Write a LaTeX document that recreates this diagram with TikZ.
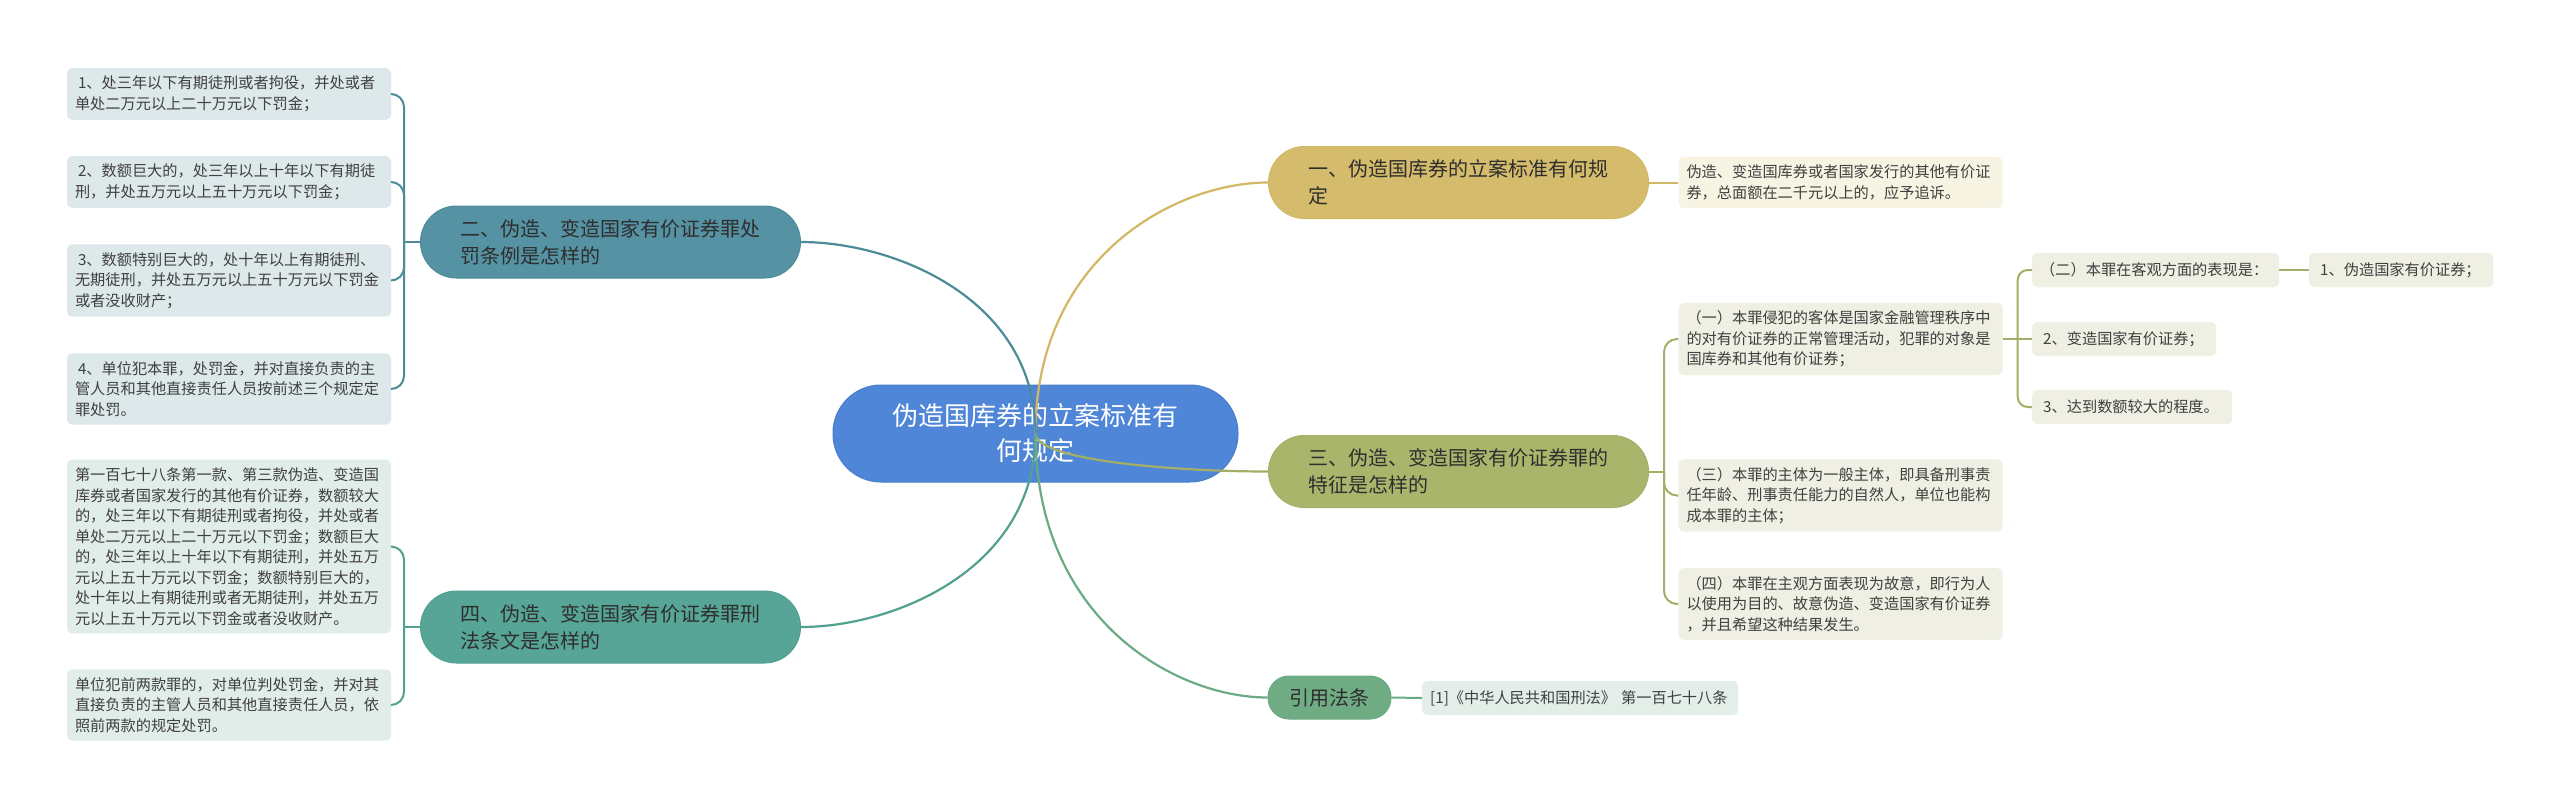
\documentclass[tikz,border=0pt]{standalone}
\usepackage{fontspec}
\setmainfont{Noto Sans CJK SC}
\usetikzlibrary{calc}
\definecolor{rootc}{HTML}{4F86D8}
\definecolor{rootd}{HTML}{4A7ECB}
\definecolor{fillA}{HTML}{5592A3}
\definecolor{lineA}{HTML}{4E8B99}
\definecolor{leafA}{HTML}{DDE8EA}
\definecolor{fillD}{HTML}{56A596}
\definecolor{lineD}{HTML}{52A090}
\definecolor{leafD}{HTML}{E1EDE9}
\definecolor{fillB}{HTML}{D4BC6C}
\definecolor{lineB}{HTML}{D2B865}
\definecolor{leafB}{HTML}{F7F4E3}
\definecolor{fillC}{HTML}{AAB56C}
\definecolor{lineC}{HTML}{A3AE67}
\definecolor{leafC}{HTML}{EFEFE3}
\definecolor{fillE}{HTML}{6FAC84}
\definecolor{lineE}{HTML}{6AAA84}
\definecolor{leafE}{HTML}{E3EEE8}
\definecolor{txtdark}{HTML}{2E2E2E}
\definecolor{txtleaf}{HTML}{404040}
\begin{document}
\begin{tikzpicture}[x=1pt,y=-1pt,
  rootbox/.style={rectangle, rounded corners=48pt, fill=rootc, draw=rootd, line width=1pt,
    text=white, font=\fontsize{26}{35}\selectfont, align=center,
    minimum width=405pt, minimum height=97pt, inner sep=0pt},
  topic/.style={rectangle, rounded corners=36pt, line width=1pt, text=txtdark,
    font=\fontsize{20}{27}\selectfont, align=left,
    minimum width=380pt, minimum height=72pt, inner sep=0pt},
  leafbox/.style={rectangle, rounded corners=5pt, text=txtleaf,
    font=\fontsize{15.2}{20.5}\selectfont, align=left, text width=308pt,
    inner xsep=8pt, inner ysep=8pt},
  leafone/.style={rectangle, rounded corners=5pt, text=txtleaf,
    font=\fontsize{15.2}{20.5}\selectfont, anchor=west, align=left,
    inner xsep=8pt, inner ysep=0pt, minimum height=34pt},
  mainline/.style={line width=2.2pt},
  subline/.style={line width=2pt, rounded corners=13pt}
]
\useasboundingbox[fill=white] (0,0) rectangle (2560,809);

% root
\node[rootbox] (root) at (1035.5,433.5) {伪造国库券的立案标准有\\何规定};

% main topics
\node[topic, fill=fillB, draw=lineB] (n1) at (1458.5,182.5) {一、伪造国库券的立案标准有何规\\定};
\node[topic, fill=fillA, draw=lineA] (n2) at (610.5,242) {二、伪造、变造国家有价证券罪处\\罚条例是怎样的};
\node[topic, fill=fillC, draw=lineC] (n3) at (1458.5,471.5) {三、伪造、变造国家有价证券罪的\\特征是怎样的};
\node[topic, fill=fillD, draw=lineD] (n4) at (610.5,627) {四、伪造、变造国家有价证券罪刑\\法条文是怎样的};
\node[topic, fill=fillE, draw=lineE, align=center, minimum width=123pt, minimum height=43pt, rounded corners=21pt] (n5) at (1329.5,697.5) {引用法条};

% left leaves (二)
\node[leafbox, fill=leafA] (L1) at (229,94) {\hspace*{3pt}1、处三年以下有期徒刑或者拘役，并处或者\\单处二万元以上二十万元以下罚金；};
\node[leafbox, fill=leafA] (L2) at (229,182) {\hspace*{3pt}2、数额巨大的，处三年以上十年以下有期徒\\刑，并处五万元以上五十万元以下罚金；};
\node[leafbox, fill=leafA] (L3) at (229,280.5) {\hspace*{3pt}3、数额特别巨大的，处十年以上有期徒刑、\\无期徒刑，并处五万元以上五十万元以下罚金\\或者没收财产；};
\node[leafbox, fill=leafA] (L4) at (229,389) {\hspace*{3pt}4、单位犯本罪，处罚金，并对直接负责的主\\管人员和其他直接责任人员按前述三个规定定\\罪处罚。};

% left leaves (四)
\node[leafbox, fill=leafD] (L5) at (229,546.5) {第一百七十八条第一款、第三款伪造、变造国\\库券或者国家发行的其他有价证券，数额较大\\的，处三年以下有期徒刑或者拘役，并处或者\\单处二万元以上二十万元以下罚金；数额巨大\\的，处三年以上十年以下有期徒刑，并处五万\\元以上五十万元以下罚金；数额特别巨大的，\\处十年以上有期徒刑或者无期徒刑，并处五万\\元以上五十万元以下罚金或者没收财产。};
\node[leafbox, fill=leafD] (L6) at (229,705) {单位犯前两款罪的，对单位判处罚金，并对其\\直接负责的主管人员和其他直接责任人员，依\\照前两款的规定处罚。};

% right leaves
\node[leafbox, fill=leafB] (R1) at (1840.5,182.5) {伪造、变造国库券或者国家发行的其他有价证\\券，总面额在二千元以上的，应予追诉。};
\node[leafbox, fill=leafC] (Ra) at (1840.5,339) {（一）本罪侵犯的客体是国家金融管理秩序中\\的对有价证券的正常管理活动，犯罪的对象是\\国库券和其他有价证券；};
\node[leafbox, fill=leafC] (Rc) at (1840.5,495.5) {（三）本罪的主体为一般主体，即具备刑事责\\任年龄、刑事责任能力的自然人，单位也能构\\成本罪的主体；};
\node[leafbox, fill=leafC] (Rd) at (1840.5,604) {（四）本罪在主观方面表现为故意，即行为人\\以使用为目的、故意伪造、变造国家有价证券\\，并且希望这种结果发生。};
\node[leafone, fill=leafC, text width=231pt] (Rb) at (2032,270) {（二）本罪在客观方面的表现是：};
\node[leafone, fill=leafC, text width=168pt] (Rb1) at (2309,270) {\hspace*{3pt}1、伪造国家有价证券；};
\node[leafone, fill=leafC, text width=168pt] (Rb2) at (2032,339) {\hspace*{3pt}2、变造国家有价证券；};
\node[leafone, fill=leafC, text width=184pt] (Rb3) at (2032,407) {\hspace*{3pt}3、达到数额较大的程度。};
\node[leafone, fill=leafE, text width=300pt] (R5) at (1422,698) {[1]《中华人民共和国刑法》 第一百七十八条};

% main connectors (drawn over the root)
\draw[mainline, lineB] (root.center) .. controls ($(root.center)+(0,-176)$) and ($(n1.west)+(-93,0)$) .. (n1.west);
\draw[mainline, lineA] (root.center) .. controls ($(root.center)+(0,-134)$) and ($(n2.east)+(94,0)$) .. (n2.east);
\draw[mainline, lineC] (root.center) .. controls ($(root.center)+(0,27)$) and ($(n3.west)+(-93,0)$) .. (n3.west);
\draw[mainline, lineD] (root.center) .. controls ($(root.center)+(0,135)$) and ($(n4.east)+(94,0)$) .. (n4.east);
\draw[mainline, lineE] (root.center) .. controls ($(root.center)+(0,185)$) and ($(n5.west)+(-93,0)$) .. (n5.west);

% sub connectors
\draw[subline, lineA] (n2.west) -- ++(-16,0) coordinate (j2);
\foreach \l in {L1,L2,L3,L4} \draw[subline, lineA] (j2) |- (\l.east);
\draw[subline, lineD] (n4.west) -- ++(-16,0) coordinate (j4);
\foreach \l in {L5,L6} \draw[subline, lineD] (j4) |- (\l.east);
\draw[subline, lineB] (n1.east) -- (R1.west);
\draw[subline, lineC] (n3.east) -- ++(15,0) coordinate (j3);
\foreach \l in {Ra,Rc,Rd} \draw[subline, lineC] (j3) |- (\l.west);
\draw[subline, lineC] (Ra.east) -- ++(15,0) coordinate (ja);
\foreach \l in {Rb,Rb3} \draw[subline, rounded corners=10pt, lineC] (ja) |- (\l.west);
\draw[subline, lineC] (ja) -- (Rb2.west);
\draw[subline, lineC] (Rb.east) -- (Rb1.west);
\draw[subline, lineE] (n5.east) -- (R5.west);
\end{tikzpicture}
\end{document}
